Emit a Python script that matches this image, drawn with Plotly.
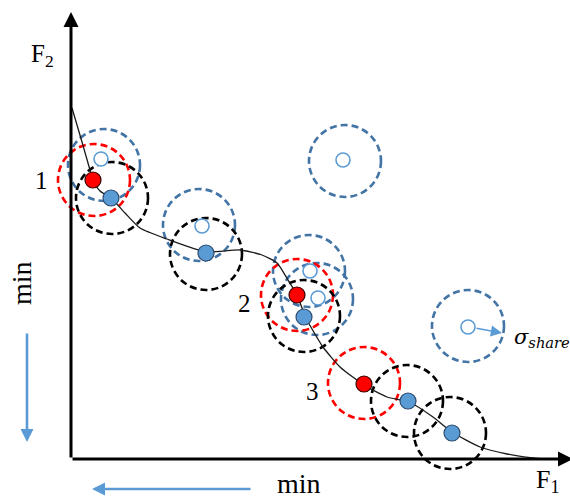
import plotly.graph_objects as go

# ---- data (chart units: F1 to the right, F2 upward, origin at the axes corner) ----
front_f1 = [1, 11, 19, 22, 29, 40, 54, 69, 96, 136, 169, 191, 206, 217, 226, 231, 235, 241,
            252, 269, 293, 316, 338, 362, 381, 409, 436, 462, 474]
front_f2 = [351, 317, 289, 279, 268, 261, 246, 231, 220, 207, 209, 204, 196, 179, 164, 151,
            141, 130, 112, 92, 74, 62, 57, 42, 27, 12, 5, 1, 0]

red_f1 = [22, 226, 293]
red_f2 = [279, 164, 75]
red_labels = ["1", "2", "3"]

blue_f1 = [40, 135, 233, 337, 381]
blue_f2 = [261, 206, 142, 58, 26]

hollow_f1 = [30, 131, 239, 247, 272, 397]
hollow_f2 = [300, 233, 188, 161, 299, 132]

blue_ring_f1 = [33, 128, 238, 246, 274, 397]
blue_ring_f2 = [294, 234, 188, 160, 298, 133]
black_ring_f1 = [41, 135, 233, 336, 379]
black_ring_f2 = [261, 205, 143, 58, 26]
red_ring_f1 = [23, 226, 293]
red_ring_f2 = [279, 164, 76]
sigma_share = 36

# ---- styling ----
RED = "#FF0000"
BLUE_FILL = "#5B9BD5"
BLUE_RING = "#4374A6"
ARROW_BLUE = "#5B9BD5"
SERIF = "Liberation Serif"
MATH = "DejaVu Serif"
DASH = "7px,4px"

fig = go.Figure()

shapes = []
def rings(xs, ys, color):
    for cx, cy in zip(xs, ys):
        shapes.append(dict(type="circle", xref="x", yref="y", layer="below",
                           x0=cx - sigma_share, x1=cx + sigma_share,
                           y0=cy - sigma_share, y1=cy + sigma_share,
                           line=dict(color=color, width=2.6, dash=DASH),
                           fillcolor="rgba(0,0,0,0)"))

rings(blue_ring_f1, blue_ring_f2, BLUE_RING)
rings(red_ring_f1, red_ring_f2, RED)
rings(black_ring_f1, black_ring_f2, "#000000")

# Pareto front curve
fig.add_trace(go.Scatter(x=front_f1, y=front_f2, mode="lines",
                         line=dict(color="#1a1a1a", width=1.3, shape="spline", smoothing=0.6),
                         hoverinfo="skip", showlegend=False))
# hollow points
fig.add_trace(go.Scatter(x=hollow_f1, y=hollow_f2, mode="markers",
                         marker=dict(size=14, color="white", line=dict(color=BLUE_FILL, width=1.6)),
                         showlegend=False))
# blue filled points
fig.add_trace(go.Scatter(x=blue_f1, y=blue_f2, mode="markers",
                         marker=dict(size=16, color=BLUE_FILL, line=dict(color="#2E4B6E", width=1.2)),
                         showlegend=False))
# red points
fig.add_trace(go.Scatter(x=red_f1, y=red_f2, mode="markers",
                         marker=dict(size=16, color=RED, line=dict(color="#3a0000", width=1.2)),
                         showlegend=False))

annotations = []
def arrow(x0, y0, x1, y1, color, width, size, head=2):
    annotations.append(dict(x=x1, y=y1, ax=x0, ay=y0, xref="x", yref="y",
                            axref="x", ayref="y", text="", showarrow=True,
                            arrowhead=head, arrowsize=size, arrowwidth=width,
                            arrowcolor=color, standoff=0, startstandoff=0))

# axes
arrow(0, 0, 0, 447, "black", 3, 1.0)
arrow(0, 0, 502, 0, "black", 3, 1.0)
# blue "min" arrows
arrow(-44, 127, -44, 17, ARROW_BLUE, 2.6, 1.0)
arrow(181, -30, 21, -30, ARROW_BLUE, 2.6, 1.0)
# sigma_share radius arrow
arrow(404, 131, 431, 126, ARROW_BLUE, 1.6, 1.4)

def label(x, y, text, size, angle=0, xanchor="center", family=SERIF):
    annotations.append(dict(x=x, y=y, xref="x", yref="y", text=text, showarrow=False,
                            textangle=angle, xanchor=xanchor, yanchor="middle",
                            font=dict(family=family, size=size, color="black")))

label(-29, 404, "F<sub>2</sub>", 25)
label(477, -22, "F<sub>1</sub>", 26)
label(-30, 279, red_labels[0], 25)
label(173, 156, red_labels[1], 25)
label(241, 68, red_labels[2], 25)
label(-50, 176, "min", 28, angle=-90)
label(228, -24, "min", 28)
label(441, 121, "<i>σ<sub>share</sub></i>", 21, xanchor="left", family=MATH)

fig.update_layout(
    width=570, height=499, autosize=False,
    margin=dict(l=0, r=0, t=0, b=0, pad=0),
    paper_bgcolor="white", plot_bgcolor="white",
    font=dict(family=SERIF),
    xaxis=dict(range=[-71, 499], visible=False, fixedrange=True),
    yaxis=dict(range=[-40, 459], visible=False, fixedrange=True),
    shapes=shapes, annotations=annotations, showlegend=False,
)

fig.write_html("out.html")
